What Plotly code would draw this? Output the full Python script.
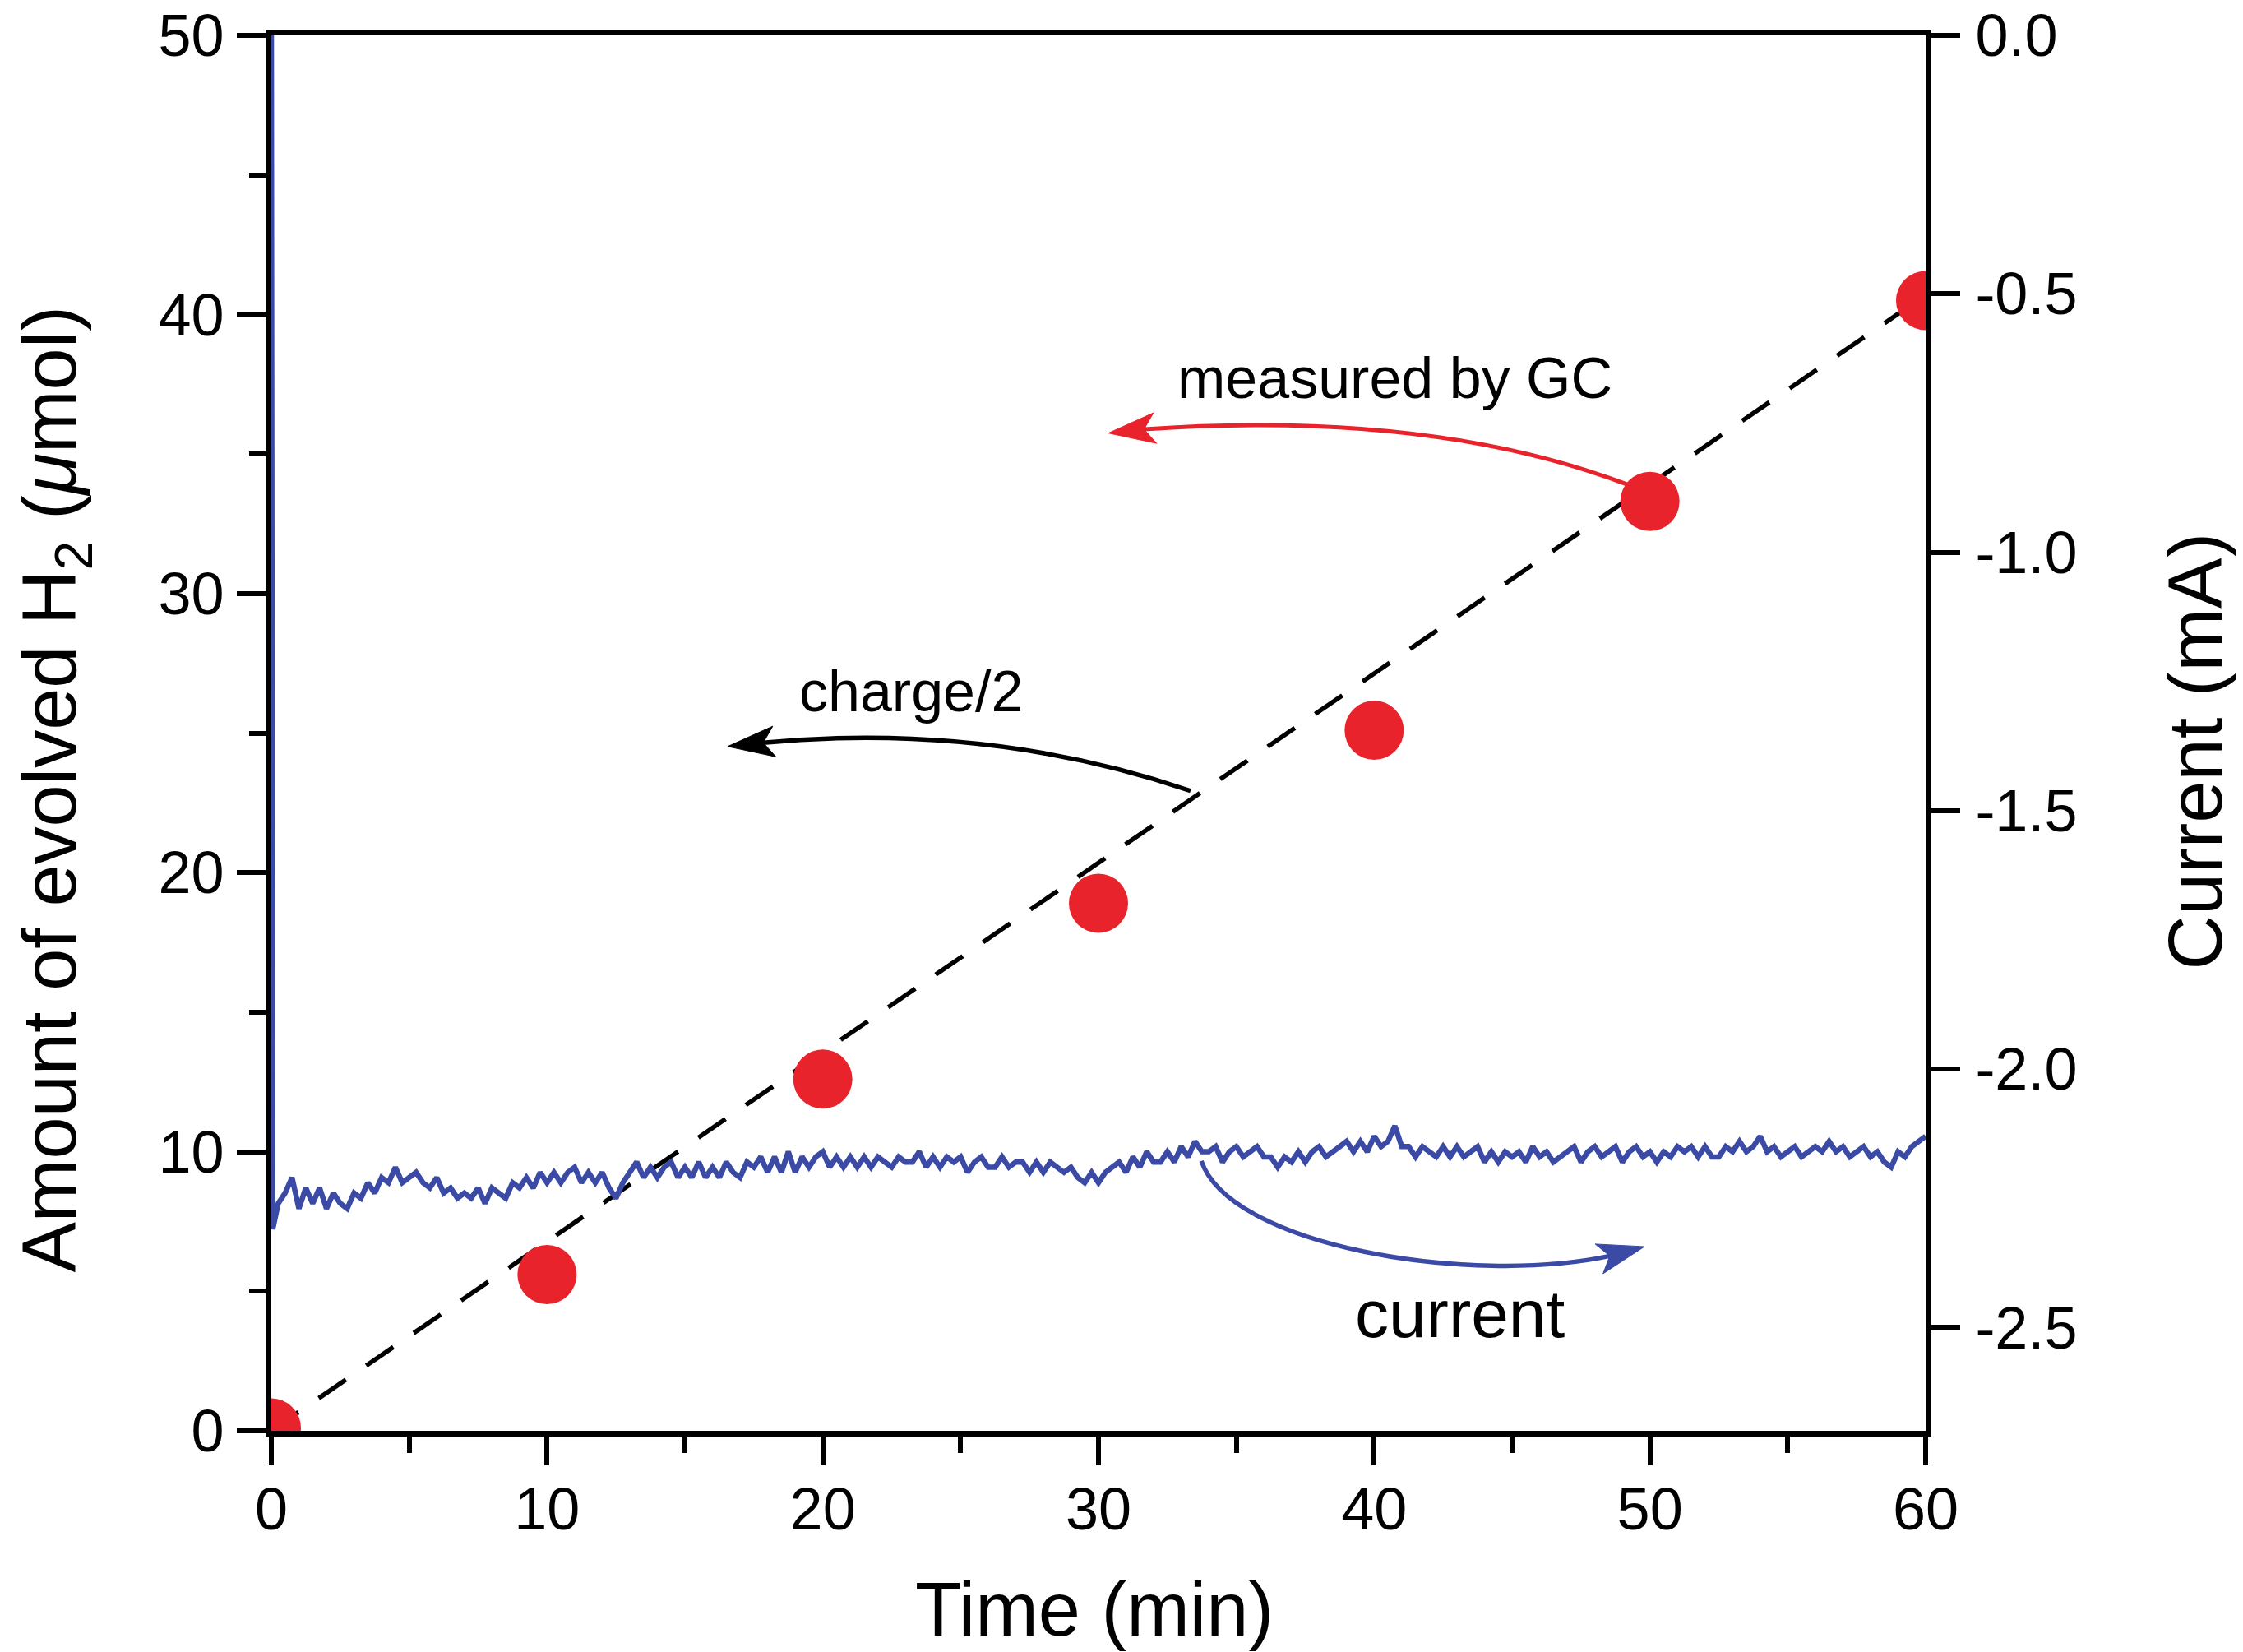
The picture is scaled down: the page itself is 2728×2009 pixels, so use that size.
import math
import plotly.graph_objects as go

# ---------------- data ----------------
time_gc = [0, 10, 20, 30, 40, 50, 60]
h2_gc = [0.1, 5.6, 12.6, 18.9, 25.1, 33.3, 40.5]

time_charge = [0, 60]
h2_charge = [0.0, 40.7]

current_ma = [
    0.0, -2.31,
    -2.26, -2.24, -2.21, -2.27, -2.23, -2.26, -2.23, -2.27, -2.24, -2.26, -2.27, -2.24,
    -2.25, -2.22, -2.24, -2.21, -2.22, -2.19, -2.22, -2.21, -2.20, -2.22, -2.23, -2.21,
    -2.24, -2.23, -2.25, -2.24, -2.25, -2.23, -2.26, -2.23, -2.24, -2.25, -2.22, -2.23,
    -2.21, -2.23, -2.20, -2.22, -2.20, -2.22, -2.20, -2.19, -2.22, -2.20, -2.22, -2.20,
    -2.23, -2.25, -2.22, -2.20, -2.18, -2.21, -2.19, -2.21, -2.19, -2.18, -2.21, -2.19,
    -2.21, -2.18, -2.21, -2.19, -2.21, -2.18, -2.20, -2.21, -2.18, -2.19, -2.17, -2.20,
    -2.17, -2.20, -2.16, -2.20, -2.17, -2.19, -2.17, -2.16, -2.19, -2.17, -2.19, -2.17,
    -2.19, -2.17, -2.19, -2.17, -2.18, -2.19, -2.17, -2.18, -2.18, -2.16, -2.19, -2.17,
    -2.19, -2.17, -2.18, -2.17, -2.20, -2.18, -2.17, -2.19, -2.19, -2.17, -2.19, -2.18,
    -2.18, -2.20, -2.18, -2.20, -2.18, -2.19, -2.20, -2.19, -2.21, -2.22, -2.20, -2.22,
    -2.20, -2.19, -2.18, -2.20, -2.17, -2.19, -2.16, -2.18, -2.18, -2.16, -2.18, -2.15,
    -2.17, -2.14, -2.16, -2.16, -2.15, -2.18, -2.16, -2.15, -2.17, -2.16, -2.15, -2.17,
    -2.17, -2.19, -2.17, -2.18, -2.16, -2.18, -2.16, -2.15, -2.17, -2.16, -2.15, -2.14,
    -2.16, -2.14, -2.16, -2.13, -2.15, -2.14, -2.11, -2.15, -2.15, -2.17, -2.15, -2.16,
    -2.17, -2.15, -2.17, -2.15, -2.17, -2.16, -2.15, -2.18, -2.16, -2.18, -2.16, -2.17,
    -2.16, -2.18, -2.15, -2.17, -2.16, -2.18, -2.17, -2.16, -2.15, -2.18, -2.16, -2.15,
    -2.17, -2.16, -2.15, -2.18, -2.16, -2.15, -2.17, -2.16, -2.18, -2.16, -2.17, -2.15,
    -2.16, -2.15, -2.17, -2.15, -2.17, -2.17, -2.15, -2.16, -2.14, -2.16, -2.15, -2.13,
    -2.16, -2.15, -2.17, -2.16, -2.15, -2.17, -2.16, -2.15, -2.16, -2.14, -2.16, -2.15,
    -2.17, -2.16, -2.15, -2.17, -2.16, -2.18, -2.19, -2.16, -2.17, -2.15, -2.14, -2.13,
]
# sampling times: spike at start, then every 0.25 min
current_time = [0.0, 0.05] + [0.25 * i for i in range(1, len(current_ma) - 1)]

x_ticks = [0, 10, 20, 30, 40, 50, 60]
y_ticks = [0, 10, 20, 30, 40, 50]
y2_ticks = [0.0, -0.5, -1.0, -1.5, -2.0, -2.5]
y2_ticklabels = ["0.0", "-0.5", "-1.0", "-1.5", "-2.0", "-2.5"]

RED = "#E8232B"
BLUE = "#3A4AA5"
FONT = "Liberation Sans, Arial, Helvetica, sans-serif"

fig = go.Figure()

fig.add_trace(go.Scatter(
    x=current_time, y=current_ma, yaxis="y2", mode="lines",
    line=dict(color=BLUE, width=6.5), name="current", showlegend=False))

fig.add_trace(go.Scatter(
    x=time_charge, y=h2_charge, mode="lines",
    line=dict(color="black", width=5.5, dash="40px,30px"),
    name="charge/2", showlegend=False))

fig.add_trace(go.Scatter(
    x=time_gc, y=h2_gc, mode="markers",
    marker=dict(color=RED, size=72, line=dict(width=0)),
    name="measured by GC", showlegend=False))

# ---------------- curved annotation arrows ----------------
def head_path(tip, ang_deg, L=1.7, W=0.55, notch=0.4):
    a = math.radians(ang_deg)
    ux, uy = math.cos(a), math.sin(a)
    px, py = -uy, ux
    bx, by = tip[0] - L * ux, tip[1] - L * uy
    nx, ny = tip[0] - (L - notch) * ux, tip[1] - (L - notch) * uy
    p1 = (bx + W * px, by + W * py)
    p2 = (bx - W * px, by - W * py)
    path = (f"M {tip[0]},{tip[1]} L {p1[0]},{p1[1]} L {nx},{ny} "
            f"L {p2[0]},{p2[1]} Z")
    return path, (nx, ny)

shapes = []

# measured by GC (red)
hp, end = head_path((30.36, 35.75), 186)
shapes.append(dict(type="path", xref="x", yref="y",
                   path=f"M 49.2,33.9 Q 42.0,36.6 {end[0]},{end[1]}",
                   line=dict(color=RED, width=5)))
shapes.append(dict(type="path", xref="x", yref="y", path=hp,
                   fillcolor=RED, line=dict(color=RED, width=1)))

# charge/2 (black)
hp, end = head_path((16.55, 24.52), 186)
shapes.append(dict(type="path", xref="x", yref="y",
                   path=f"M 33.34,22.93 Q 26.0,25.4 {end[0]},{end[1]}",
                   line=dict(color="black", width=5.5)))
shapes.append(dict(type="path", xref="x", yref="y", path=hp,
                   fillcolor="black", line=dict(color="black", width=1)))

# current (blue)
hp, end = head_path((49.8, 6.6), 15)
shapes.append(dict(type="path", xref="x", yref="y",
                   path=f"M 33.73,9.67 C 34.8,6.6 43.5,5.2 {end[0]},{end[1]}",
                   line=dict(color=BLUE, width=5.5)))
shapes.append(dict(type="path", xref="x", yref="y", path=hp,
                   fillcolor=BLUE, line=dict(color=BLUE, width=1)))

TITLE_SIZE = 92
annotations = [
    dict(x=40.74, y=37.7, xref="x", yref="y", text="measured by GC",
         showarrow=False, font=dict(family=FONT, size=70, color="black")),
    dict(x=23.2, y=26.5, xref="x", yref="y", text="charge/2",
         showarrow=False, font=dict(family=FONT, size=70, color="black")),
    dict(x=43.1, y=4.2, xref="x", yref="y", text="current",
         showarrow=False, font=dict(family=FONT, size=82, color="black")),
    # axis titles
    dict(x=0.4975, y=-0.128, xref="paper", yref="paper", text="Time (min)",
         showarrow=False, xanchor="center", yanchor="middle",
         font=dict(family=FONT, size=TITLE_SIZE, color="black")),
    dict(x=-0.1305, y=0.4596, xref="paper", yref="paper",
         text="Amount of evolved H<sub>2</sub> (<i>μ</i>mol)", textangle=-90,
         showarrow=False, xanchor="center", yanchor="middle",
         font=dict(family=FONT, size=TITLE_SIZE, color="black")),
    dict(x=1.163, y=0.487, xref="paper", yref="paper", text="Current (mA)",
         textangle=-90, showarrow=False, xanchor="center", yanchor="middle",
         font=dict(family=FONT, size=TITLE_SIZE, color="black")),
]

axis_common = dict(
    showline=True, linecolor="black", linewidth=7,
    ticks="outside", ticklen=35, tickwidth=6, tickcolor="black",
    showgrid=False, zeroline=False, automargin=False,
    ticklabeloverflow="allow",
    tickfont=dict(family=FONT, size=72, color="black"),
)

# the page body adds an 8 px offset, so the figure is 8 px smaller
fig.update_layout(
    width=2720, height=2001,
    margin=dict(l=322, r=386, t=35, b=269),
    paper_bgcolor="white", plot_bgcolor="white",
    font=dict(family=FONT, color="black"),
    showlegend=False,
    shapes=shapes,
    annotations=annotations,
    xaxis=dict(
        range=[0, 60], tickvals=x_ticks, mirror=True,
        minor=dict(dtick=5, ticks="outside", ticklen=20, tickwidth=6, tickcolor="black"),
        ticklabelstandoff=-8,
        **axis_common),
    yaxis=dict(
        range=[0, 50], tickvals=y_ticks,
        minor=dict(dtick=5, ticks="outside", ticklen=20, tickwidth=6, tickcolor="black"),
        ticklabelstandoff=1,
        **axis_common),
    yaxis2=dict(
        range=[-2.7, 0], tickvals=y2_ticks, ticktext=y2_ticklabels,
        overlaying="y", side="right",
        ticklabelstandoff=4,
        **axis_common),
)

fig.write_html("out.html")
